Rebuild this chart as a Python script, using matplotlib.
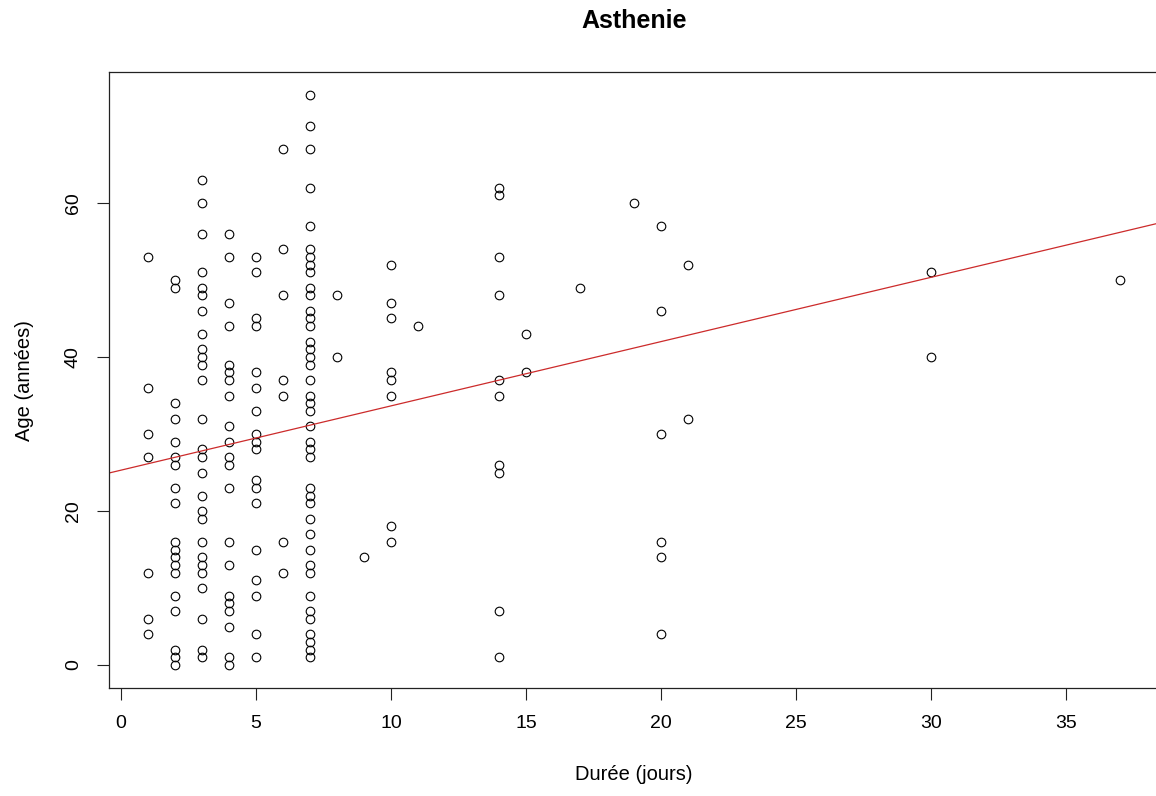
import numpy as np
import matplotlib
matplotlib.use("Agg")
import matplotlib.pyplot as plt

plt.rcParams['font.family'] = ['Liberation Sans', 'DejaVu Sans']

# ----- Data: duration (days) and age (years), one row per duration -----
duree = (
    [1] * 7 + [2] * 19 + [3] * 27 + [4] * 21 + [5] * 18 + [6] * 7 + [7] * 41
    + [8] * 2 + [9] * 1 + [10] * 8 + [11] * 1 + [14] * 10 + [15] * 2
    + [17] * 1 + [19] * 1 + [20] * 6 + [21] * 2 + [30] * 2 + [37] * 1
)
age = (
    [53, 36, 30, 27, 12, 6, 4]
    + [50, 49, 34, 32, 29, 27, 26, 23, 21, 16, 15, 14, 13, 12, 9, 7, 2, 1, 0]
    + [63, 60, 56, 51, 49, 48, 46, 43, 41, 40, 39, 37, 32, 28, 27, 25, 22, 20,
       19, 16, 14, 13, 12, 10, 6, 2, 1]
    + [56, 53, 47, 44, 39, 38, 37, 35, 31, 29, 27, 26, 23, 16, 13, 9, 8, 7, 5,
       1, 0]
    + [53, 51, 45, 44, 38, 36, 33, 30, 29, 28, 24, 23, 21, 15, 11, 9, 4, 1]
    + [67, 54, 48, 37, 35, 16, 12]
    + [74, 70, 67, 62, 57, 54, 53, 52, 51, 49, 48, 46, 45, 44, 42, 41, 40, 39,
       37, 35, 34, 33, 31, 29, 28, 27, 23, 22, 21, 19, 17, 15, 13, 12, 9, 7,
       6, 4, 3, 2, 1]
    + [48, 40]
    + [14]
    + [52, 47, 45, 38, 37, 35, 18, 16]
    + [44]
    + [62, 61, 53, 48, 37, 35, 26, 25, 7, 1]
    + [43, 38]
    + [49]
    + [60]
    + [57, 46, 30, 16, 14, 4]
    + [52, 32]
    + [51, 40]
    + [50]
)
x_ticks = [0, 5, 10, 15, 20, 25, 30, 35]
y_ticks = [0, 20, 40, 60]

# regression line age ~ duree (coefficients of the lm fit on the full series,
# which has duplicate rows hidden under the circles)
origine = 25.3
pente = 0.835

duree = np.array(duree, dtype=float)
age = np.array(age, dtype=float)

# ----- Figure -----
fig = plt.figure(figsize=(11.56, 7.96), dpi=100)
ax = fig.add_axes([109 / 1156, 1 - 687.8 / 796, 1050 / 1156, 615.4 / 796])

ax.plot(duree, age, 'o', ms=6.2, mfc='none', mec='black', mew=0.8)

# R-style 4% padding around the data range
xr = duree.max() - duree.min()
yr = age.max() - age.min()
ax.set_xlim(duree.min() - 0.04 * xr, duree.max() + 0.04 * xr)
ax.set_ylim(age.min() - 0.04 * yr, age.max() + 0.04 * yr)

ax.axline((0, origine), slope=pente, color='#cc2b2b', lw=0.9)

ax.set_xticks(x_ticks)
ax.set_yticks(y_ticks)
ax.tick_params(length=8.5, width=0.8, labelsize=14, color='#222222')
ax.tick_params(axis='x', pad=11)
ax.tick_params(axis='y', pad=11)
for lab in ax.get_yticklabels():
    lab.set_rotation(90)
    lab.set_va('center')

for s in ax.spines.values():
    s.set_linewidth(0.9)
    s.set_color('#222222')

ax.set_title("Asthenie", fontsize=18, fontweight='bold', pad=32)
ax.set_xlabel("Durée (jours)", fontsize=14.5, labelpad=24)
ax.set_ylabel("Age (années)", fontsize=14.5, labelpad=22)

fig.savefig("out.png", dpi=100)
